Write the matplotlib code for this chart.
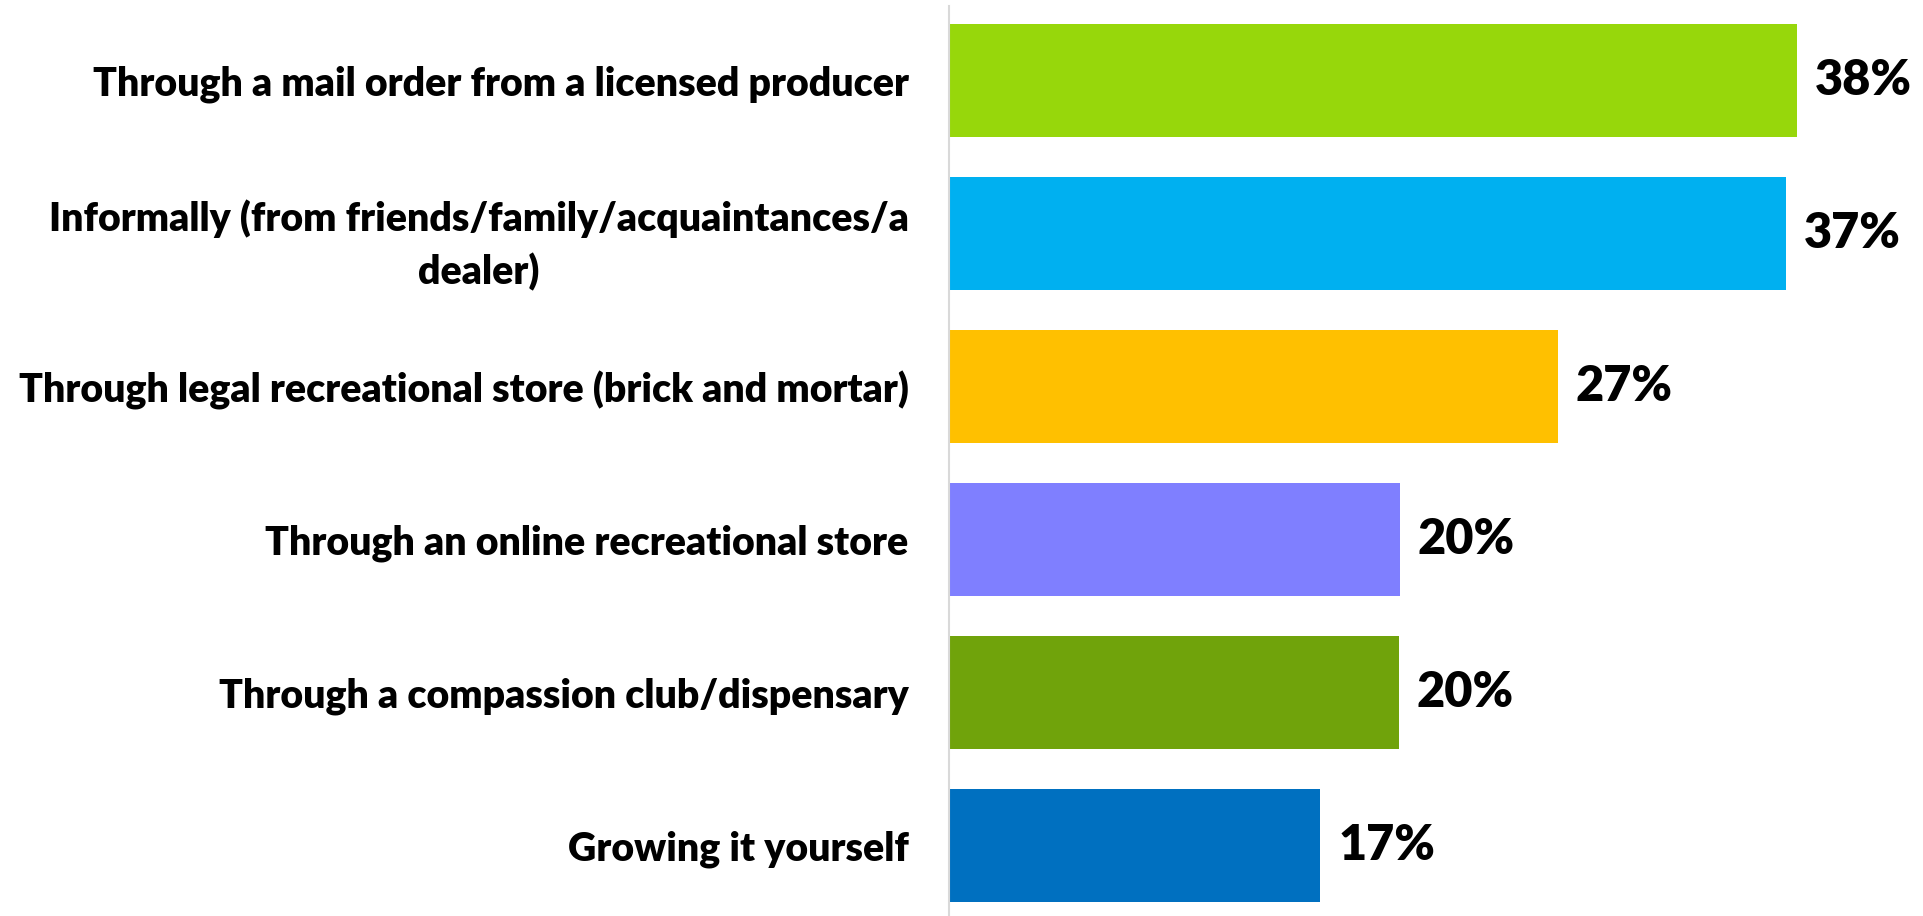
import numpy as np
import matplotlib.pyplot as plt

# Where respondents obtain cannabis (% of respondents)
categories = [
    'Through a mail order from a licensed producer',
    'Informally (from friends/family/acquaintances/a\ndealer)',
    'Through legal recreational store (brick and mortar)',
    'Through an online recreational store',
    'Through a compassion club/dispensary',
    'Growing it yourself',
]
values = [38.0, 37.5, 27.3, 20.2, 20.15, 16.65]
value_labels = ['38%', '37%', '27%', '20%', '20%', '17%']
colors = ['#97d70b', '#00b0f0', '#ffc000', '#7f7fff', '#70a30b', '#0070c0']

fig = plt.figure(figsize=(19.24, 9.16), dpi=100)
ax = fig.add_axes([0.4932, 0.0, 0.5068, 0.9935])

y = np.arange(len(categories))
ax.barh(y, values, height=0.74, color=colors)

for yi, v, lab in zip(y, values, value_labels):
    ax.text(v + 0.8, yi, lab, va='center', ha='left', fontsize=35,
            fontweight='heavy', family='Lato', color='black')

ax.set_yticks(y)
ax.set_yticklabels(categories, fontsize=28.3, fontweight='heavy', family='Lato',
                   multialignment='center', linespacing=1.5)
ax.tick_params(axis='y', length=0, pad=29)
ax.set_ylim(5.46, -0.49)
ax.set_xlim(0, 43.7)
ax.set_xticks([])

for side in ['top', 'right', 'bottom']:
    ax.spines[side].set_visible(False)
ax.spines['left'].set_color('#d9d9d9')
ax.spines['left'].set_linewidth(1.5)

fig.savefig('out.png', dpi=100)
